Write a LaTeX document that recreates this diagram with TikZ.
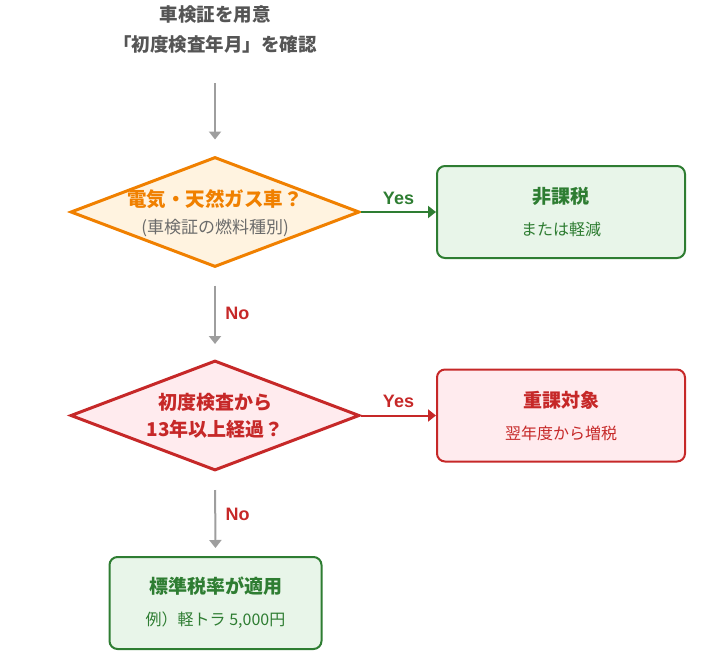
\documentclass[tikz,border=0pt]{standalone}
\usepackage{fontspec}
\setmainfont{Noto Sans CJK JP}
\newfontfamily\latinfont{Liberation Sans}
\usetikzlibrary{shapes.geometric,arrows.meta}
\definecolor{ttlgray}{HTML}{555555}
\definecolor{subgray}{HTML}{6B6B6B}
\definecolor{linegray}{HTML}{9E9E9E}
\definecolor{orangeline}{HTML}{F08000}
\definecolor{orangefill}{HTML}{FFF3E0}
\definecolor{greenline}{HTML}{2E7D32}
\definecolor{greenfill}{HTML}{E8F5E9}
\definecolor{redline}{HTML}{C62828}
\definecolor{redfill}{HTML}{FFEBEE}
\newcommand{\twolines}[2]{{\fontsize{19}{32}\selectfont\bfseries #1}\\{\fontsize{16}{32}\selectfont #2}}

\begin{document}
\begin{tikzpicture}[x=1pt, y=-1pt,
  decision/.style={diamond, draw, line width=3pt, minimum width=289pt, minimum height=110pt, inner sep=0pt},
  result/.style={rectangle, rounded corners=8pt, draw, line width=2pt, minimum width=248pt, minimum height=92pt, align=center, font=\fontsize{16}{32}\selectfont},
  flow/.style={-{Triangle[length=8pt,width=12pt]}, line width=2pt},
  lbl/.style={font=\latinfont\fontsize{18}{18}\selectfont\bfseries}]
\useasboundingbox (0,0) rectangle (714,666);
\node[align=center, text=ttlgray, font=\fontsize{18.5}{30}\selectfont\bfseries] (start) at (215,30) {車検証を用意\\「初度検査年月」を確認};
\node[decision, draw=orangeline, fill=orangefill] (elec) at (215,212) {};
\node[align=center, font=\fontsize{17}{27}\selectfont] (electext) at ([yshift=-1pt]elec) {{\fontsize{19.5}{27}\selectfont\bfseries\color{orangeline}電気・天然ガス車？}\\{\color{subgray}(車検証の燃料種別)}};
\node[result, draw=greenline, fill=greenfill, text=greenline] (free) at (561,212) {\twolines{非課税}{または軽減}};
\node[decision, draw=redline, fill=redfill] (age) at (215,415.5) {};
\node[align=center, text=redline, font=\fontsize{19}{27}\selectfont\bfseries] (agetext) at (age) {初度検査から\\13年以上経過？};
\node[result, draw=redline, fill=redfill, text=redline] (heavy) at (561,415.5) {\twolines{重課対象}{翌年度から増税}};
\node[result, draw=greenline, fill=greenfill, text=greenline, minimum width=212pt] (std) at (215.5,603) {\twolines{標準税率が適用}{例）軽トラ 5,000円}};
\draw[flow, linegray, shorten <=26pt, shorten >=16pt] (start) -- (elec);
\draw[flow, greenline] (elec.east) -- (free.west) node[midway, above=3pt, lbl, text=greenline] (yes1) {Yes};
\draw[flow, linegray, shorten <=17pt, shorten >=15pt] (elec.south) -- (age.north) node[midway, right=6pt, lbl, text=redline] (no1) {No};
\draw[flow, redline] (age.east) -- (heavy.west) node[midway, above=3pt, lbl, text=redline] (yes2) {Yes};
\draw[flow, linegray, shorten <=18pt, shorten >=8pt] (age.south) -- (std.north) node[midway, right=6pt, lbl, text=redline] (no2) {No};
\end{tikzpicture}
\end{document}
